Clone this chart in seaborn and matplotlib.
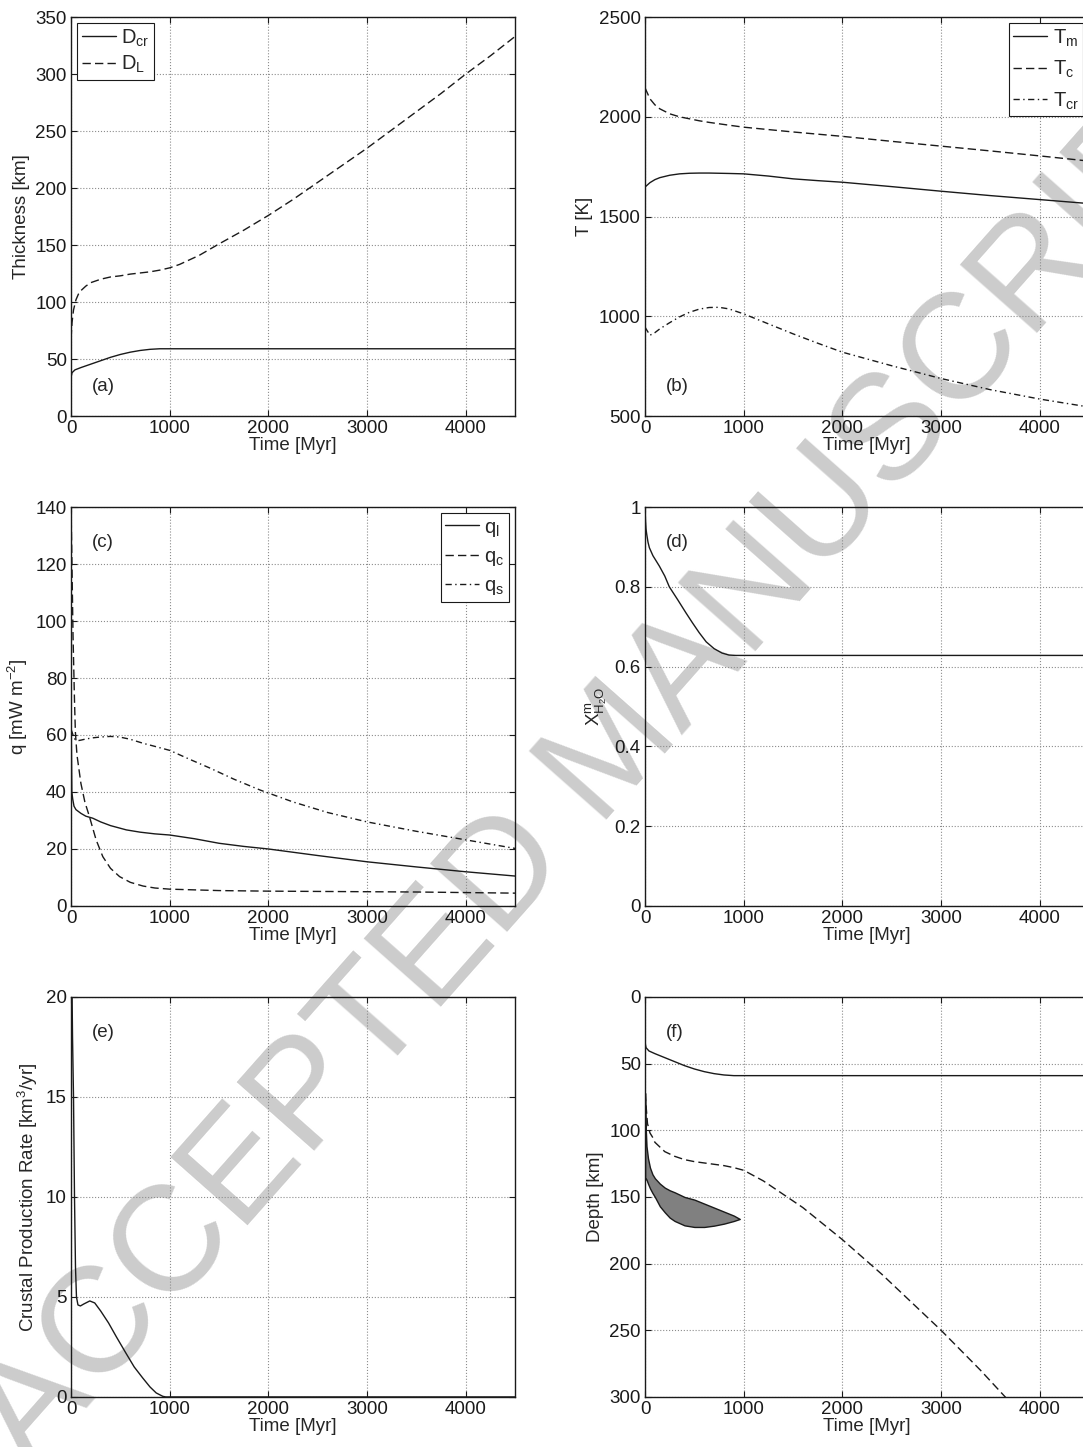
import numpy as np
import matplotlib.pyplot as plt
import seaborn as sns

# ---- data ----
# (a) / (f) crust thickness and lid thickness [km]
t_dcr = [0, 10, 40, 100, 150, 200, 300, 400, 500, 600, 700, 800, 900, 1000, 2000, 3000, 4000, 4500]
d_cr = [34, 38, 40.5, 42.5, 44, 45.5, 48.5, 51.5, 54, 56, 57.5, 58.5, 59, 59, 59, 59, 59, 59]

t_dl = [0, 10, 25, 50, 75, 100, 150, 200, 300, 400, 500, 600, 700, 800, 900, 1000, 1100, 1200,
        1300, 1400, 1500, 1750, 2000, 2250, 2500, 2750, 3000, 3250, 3500, 3750, 4000, 4250, 4500]
d_l = [68, 82, 93, 102, 107, 110, 114, 117, 120, 122, 123, 124.5, 125.5, 126.5, 128, 130, 133, 137,
       141, 146, 151, 163, 176, 190, 205, 220, 235, 251, 267, 283, 300, 316, 333]

# (f) lid base depth and melt zone [km]
t_lid = [0, 25, 50, 75, 100, 200, 300, 400, 500, 600, 700, 800, 900, 1000, 1200, 1400, 1600,
         1800, 2000, 2200, 2400, 2600, 2800, 3000, 3200, 3400, 3600, 3700]
d_lid = [72, 95, 102, 105, 109, 116, 119.5, 122, 123.5, 124.5, 125.5, 126.5, 128, 130, 138, 148, 158,
         170, 182, 195, 208, 222, 236, 250, 265, 280, 296, 304]

t_melt = [0, 5, 15, 30, 50, 75, 100, 150, 200, 250, 300, 400, 500, 600, 700, 800, 900, 960]
melt_top = [72, 95, 112, 121, 128, 133, 136, 140, 143, 145, 146.5, 150, 152, 155, 158, 161, 164, 166.5]
melt_bot = [137, 136, 137, 140, 143.5, 147, 150, 157, 161.5, 165.5, 168, 171.3, 172.5, 172.5, 171.5, 170, 168, 166.5]

# (b) temperatures [K]
t_temp = [0, 50, 100, 150, 250, 350, 450, 550, 650, 750, 850, 1000, 1250, 1500, 1750, 2000,
          2500, 3000, 3500, 4000, 4500]
temp_m = [1648, 1670, 1685, 1695, 1707, 1714, 1717, 1718, 1718, 1717, 1716, 1714, 1703, 1689, 1680, 1672,
          1650, 1627, 1605, 1585, 1565]
temp_c = [2145, 2090, 2060, 2040, 2015, 2000, 1990, 1980, 1972, 1965, 1958, 1948, 1936, 1924, 1913, 1902,
          1877, 1853, 1829, 1804, 1778]
temp_cr = [945, 905, 918, 937, 968, 997, 1020, 1036, 1044, 1045, 1037, 1012, 962, 912, 865, 820,
           752, 688, 632, 585, 545]

# (c) heat flows [mW m^-2]
t_ql = [0, 8, 17, 30, 50, 100, 150, 220, 300, 400, 560, 700, 850, 1000, 1250, 1500, 1750, 2000,
        2500, 3000, 3500, 4000, 4500]
q_l = [70, 40, 37.5, 35, 33.8, 32.5, 31.5, 30.8, 29.5, 28.2, 26.7, 25.9, 25.3, 24.9, 23.6, 22, 20.9, 20,
       17.7, 15.5, 13.7, 12, 10.5]
t_qc = [0, 10, 20, 35, 44, 60, 100, 140, 186, 254, 322, 400, 492, 600, 729, 850, 1000, 1500, 2000,
        2500, 3000, 3500, 4000, 4500]
q_c = [140, 118, 95, 72, 61, 53, 43, 36.5, 31.4, 23.2, 17.3, 13.2, 10.3, 8.3, 7.0, 6.3, 5.9, 5.4, 5.2,
       5.1, 5.0, 4.9, 4.7, 4.5]
t_qs = [0, 20, 40, 68, 100, 150, 220, 300, 400, 491, 600, 729, 850, 1000, 1200, 1407, 1650, 1915,
        2250, 2600, 3000, 3500, 4000, 4500]
q_s = [62, 60, 58.5, 58, 58.2, 58.6, 59, 59.3, 59.5, 59.3, 58.5, 57.1, 56, 54.6, 51.5, 48.4, 44.5, 40.7,
       36.5, 32.8, 29.5, 26.2, 23.2, 20.2]

# (d) mantle water fraction
t_xw = [0, 5, 10, 17, 30, 44, 80, 145, 200, 246, 330, 414, 480, 549, 620, 700, 780, 850, 920, 1000, 4500]
x_h2o = [1.0, 0.965, 0.945, 0.932, 0.912, 0.898, 0.878, 0.852, 0.827, 0.80, 0.768, 0.735, 0.71, 0.685,
         0.662, 0.645, 0.634, 0.629, 0.628, 0.628, 0.628]

# (e) crustal production rate [km^3/yr]
t_prod = [0, 15, 25, 35, 45, 55, 70, 95, 130, 190, 240, 300, 380, 460, 555, 640, 726, 800, 863,
          930, 960, 4500]
prod = [25, 18, 15, 10, 6.5, 5.0, 4.6, 4.55, 4.65, 4.8, 4.7, 4.3, 3.7, 3.0, 2.2, 1.5, 0.95, 0.5, 0.2,
        0.03, 0, 0]

time_ticks = [0, 1000, 2000, 3000, 4000]

# ---- style ----
sns.set_theme(style='ticks')
plt.rcParams['font.family'] = ['Liberation Sans', 'DejaVu Sans']
plt.rcParams['mathtext.default'] = 'regular'

FS = 13.5
SOLID = '-'
DASH = (0, (6, 3))
DASHDOT = (0, (4.5, 2.5, 1, 2.5))

fig = plt.figure(figsize=(10.83, 14.47), dpi=100)

left_x, right_x, w = 0.0656, 0.5956, 0.410
rows = [(0.7125, 0.2757), (0.3739, 0.2757), (0.0346, 0.2764)]


def setup(ax, ylim, yticks, ylabel, tag, tag_y, ylabels=None):
    ax.set_facecolor('none')
    ax.set_xlim(0, 4500)
    ax.set_ylim(*ylim)
    ax.set_xticks(time_ticks)
    ax.set_yticks(yticks)
    if ylabels is not None:
        ax.set_yticklabels(ylabels)
    ax.grid(True, linestyle=':', color='0.55', linewidth=0.8)
    ax.tick_params(direction='in', length=4, width=0.8, top=True, right=True,
                   labelsize=FS, pad=3, colors='k')
    for s in ax.spines.values():
        s.set_linewidth(1.0)
        s.set_color('k')
    ax.set_xlabel('Time [Myr]', fontsize=FS, labelpad=0)
    ax.set_ylabel(ylabel, fontsize=FS, labelpad=4)
    ax.text(0.047, tag_y, tag, transform=ax.transAxes, fontsize=FS, va='center')


def line(ax, x, y, ls, label=None):
    sns.lineplot(x=x, y=y, ax=ax, color='k', linewidth=1.0, linestyle=ls,
                 estimator=None, label=label)


def box_legend(ax, loc, spacing):
    leg = ax.legend(loc=loc, fontsize=14.5, frameon=True, fancybox=False, edgecolor='k',
                    framealpha=1, borderaxespad=0.3, handlelength=1.7, handletextpad=0.25,
                    labelspacing=spacing, borderpad=0.22)
    leg.get_frame().set_linewidth(0.8)


# (a)
ax = fig.add_axes([left_x, rows[0][0], w, rows[0][1]])
line(ax, t_dcr, d_cr, SOLID, 'D$_{cr}$')
line(ax, t_dl, d_l, DASH, 'D$_L$')
setup(ax, (0, 350), range(0, 351, 50), 'Thickness [km]', '(a)', 0.073)
box_legend(ax, 'upper left', 0.25)

# (b)
ax = fig.add_axes([right_x, rows[0][0], w, rows[0][1]])
line(ax, t_temp, temp_m, SOLID, 'T$_m$')
line(ax, t_temp, temp_c, DASH, 'T$_c$')
line(ax, t_temp, temp_cr, DASHDOT, 'T$_{cr}$')
setup(ax, (500, 2500), range(500, 2501, 500), 'T [K]', '(b)', 0.073)
box_legend(ax, 'upper right', 0.5)

# (c)
ax = fig.add_axes([left_x, rows[1][0], w, rows[1][1]])
line(ax, t_ql, q_l, SOLID, 'q$_l$')
line(ax, t_qc, q_c, DASH, 'q$_c$')
line(ax, t_qs, q_s, DASHDOT, 'q$_s$')
setup(ax, (0, 140), range(0, 141, 20), 'q [mW m$^{-2}$]', '(c)', 0.91)
box_legend(ax, 'upper right', 0.42)

# (d)
ax = fig.add_axes([right_x, rows[1][0], w, rows[1][1]])
line(ax, t_xw, x_h2o, SOLID)
setup(ax, (0, 1), [0, 0.2, 0.4, 0.6, 0.8, 1.0], 'X$^{m}_{H_2O}$', '(d)', 0.91,
      ['0', '0.2', '0.4', '0.6', '0.8', '1'])

# (e)
ax = fig.add_axes([left_x, rows[2][0], w, rows[2][1]])
line(ax, t_prod, prod, SOLID)
setup(ax, (0, 20), range(0, 21, 5), 'Crustal Production Rate [km$^3$/yr]', '(e)', 0.91)

# (f)
ax = fig.add_axes([right_x, rows[2][0], w, rows[2][1]])
ax.fill_between(t_melt, melt_top, melt_bot, facecolor='0.5', edgecolor='k', linewidth=1.0)
line(ax, t_dcr, d_cr, SOLID)
line(ax, t_lid, d_lid, DASH)
setup(ax, (300, 0), range(0, 301, 50), 'Depth [km]', '(f)', 0.91)

# watermark
fig.text(0.567, 0.480, 'ACCEPTED MANUSCRIPT', fontsize=108, color='#cccccc', rotation=48.5,
         ha='center', va='center', rotation_mode='anchor', zorder=-1)

fig.savefig('out.png', dpi=100)
